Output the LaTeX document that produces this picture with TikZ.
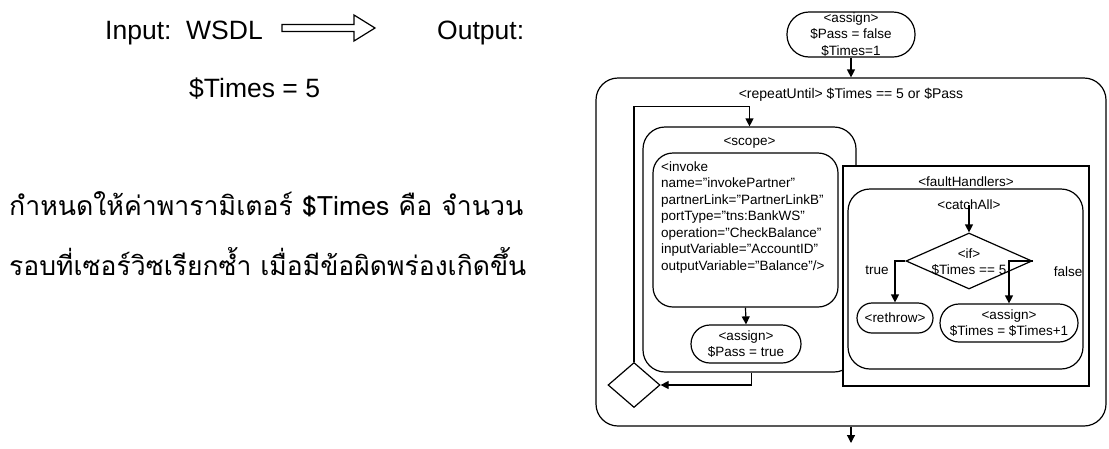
\documentclass[tikz,border=0pt]{standalone}
\usepackage{fontspec}
\setmainfont{Liberation Sans}
\newfontfamily\thaifont[Script=Thai]{Loma}
\usetikzlibrary{shapes.geometric,arrows.meta}
\begin{document}
\begin{tikzpicture}[x=1pt,y=-1pt,
  dg/.style={font=\fontsize{13.5}{16.5}\selectfont},
  ln/.style={line width=1.2pt},
  arr/.style={ln,-{Triangle[length=8pt,width=8pt]}},
  cont/.style={draw,ln,rounded corners=#1,inner sep=0pt},
  stad/.style={draw,ln,rounded corners=#1,inner sep=0pt,align=center,dg},
  lbl/.style={inner sep=0pt,align=center,dg},
  big/.style={inner sep=0pt,font=\fontsize{26.5}{30}\selectfont},
  dia/.style={draw,ln,diamond,inner sep=0pt}]
\useasboundingbox (0,0) rectangle (1109,448);

% left side texts
\node[big,anchor=base west] (inp) at (105,39) {Input:\ \ WSDL};
\node[big,anchor=base west] (outp) at (437,39) {Output:};
\node[big,anchor=base west] (times) at (189,97) {\$Times = 5};
\draw[ln] (282,24.5) -- (354,24.5) -- (354,15) -- (375,28) -- (354,41) -- (354,31.5) -- (282,31.5) -- cycle;
\node[inner sep=0pt,anchor=base west] (th1) at (9,215) {\resizebox{514pt}{!}{\thaifont กำหนดให้ค่าพารามิเตอร์ \$Times คือ จำนวน}};
\node[inner sep=0pt,anchor=base west] (th2) at (9,275) {\resizebox{517pt}{!}{\thaifont รอบที่เซอร์วิซเรียกซ้ำ เมื่อมีข้อผิดพร่องเกิดขึ้น}};

% diagram
\node[stad=22pt,minimum width=128pt,minimum height=45pt] (a0) at (851,34.5) {<assign>\\\$Pass = false\\\$Times=1};
\node[cont=22pt,minimum width=510pt,minimum height=348pt] (rep) at (851,252) {};
\node[lbl,font=\fontsize{14}{16}\selectfont] (replbl) at (851,95) {<repeatUntil> \$Times == 5 or \$Pass};

\node[cont=22pt,minimum width=213pt,minimum height=245pt] (scope) at (749.5,249.5) {};
\node[lbl] (scopelbl) at (749.5,143) {<scope>};
\node[cont=20pt,minimum width=185pt,minimum height=154pt] (inv) at (745.5,230) {};
\node[lbl,align=left,anchor=north west] (invtxt) at (661,161.5) {<invoke\\name="invokePartner"\\partnerLink="PartnerLinkB"\\portType="tns:BankWS"\\operation="CheckBalance"\\inputVariable="AccountID"\\outputVariable="Balance"/>};
\node[stad=19pt,minimum width=110pt,minimum height=38pt] (asgT) at (746,344) {<assign>\\\$Pass = true};
\node[dia,minimum width=52pt,minimum height=45pt] (loopd) at (634,385) {};

\node[draw,ln,fill=white,inner sep=0pt,minimum width=246pt,minimum height=220pt] (fault) at (966,276) {};
\node[lbl] (faultlbl) at (966,182) {<faultHandlers>};
\node[cont=22pt,minimum width=235pt,minimum height=180pt] (catch) at (965.5,279) {};
\node[lbl] (catchlbl) at (969,205) {<catchAll>};
\node[dia,minimum width=126pt,minimum height=56pt] (ifd) at (969,261) {};
\node[lbl] (iflbl) at (969,262) {<if>\\\$Times == 5};
\node[stad=15pt,minimum width=76pt,minimum height=30pt] (rethrow) at (895,318) {<rethrow>};
\node[stad=19pt,minimum width=138pt,minimum height=38pt] (asgF) at (1009,323) {<assign>\\\$Times = \$Times+1};
\node[lbl] (tl) at (877,270) {true};
\node[lbl] (fl) at (1068,272) {false};
\coordinate (endpt) at (851,443);

% connectors
\draw[arr] (a0.south) -- (rep.north);
\draw[arr] (loopd.north) |- ([yshift=20pt]scope.north) -- (scope.north);
\draw[arr] ([xshift=2pt]scope.south) |- (loopd.east);
\draw[arr] (inv.south) -- (asgT.north);
\draw[arr] (catchlbl.center) -- (ifd.north);
\draw[arr] (ifd.west) -| (rethrow.north);
\draw[arr] (ifd.east) -| (asgF.north);
\draw[arr] (rep.south) -- (endpt);
\end{tikzpicture}
\end{document}
